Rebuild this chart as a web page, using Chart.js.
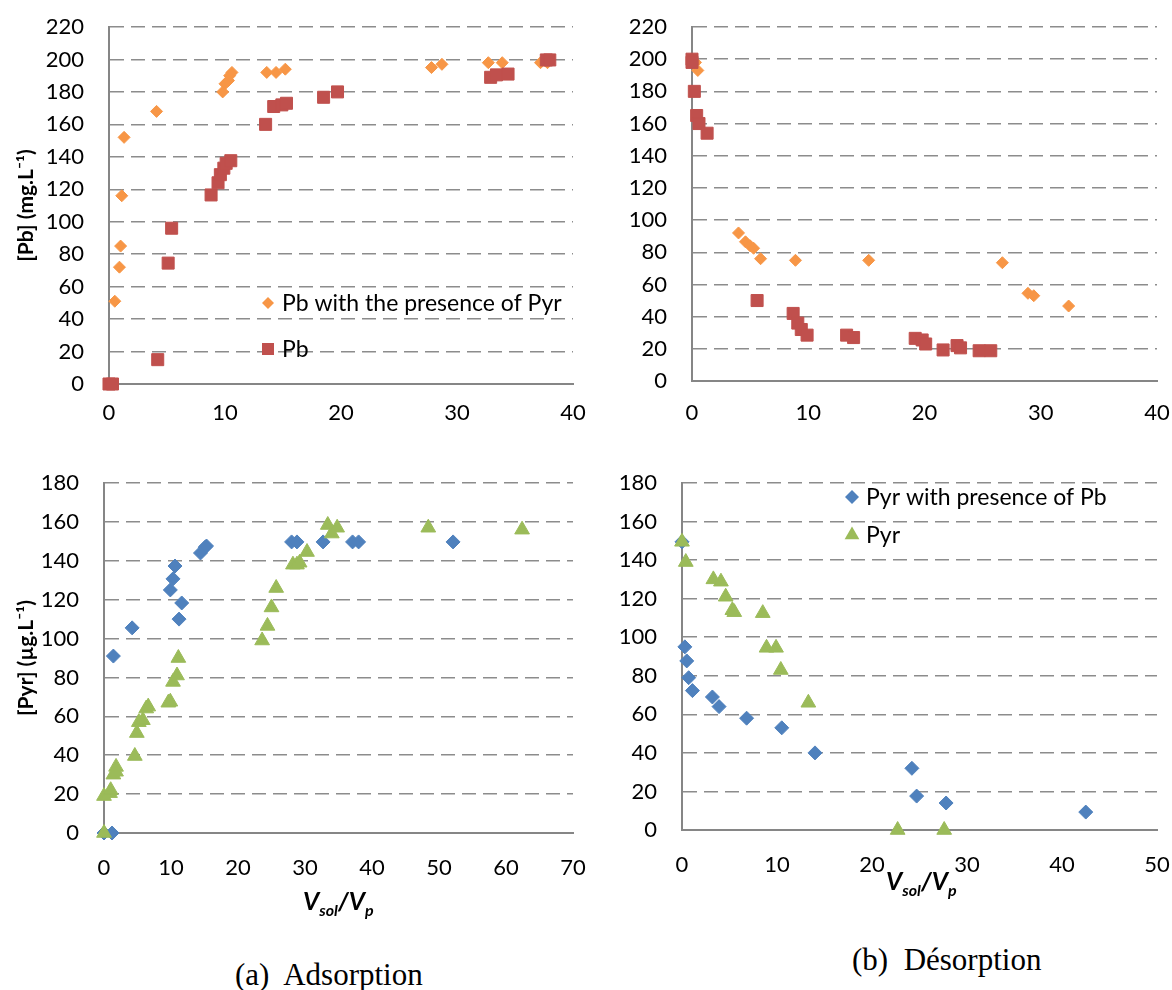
<!DOCTYPE html>
<html>
<head>
<meta charset="utf-8">
<script src="https://cdn.jsdelivr.net/npm/chart.js@4.4.1/dist/chart.umd.min.js"></script>
<style>
  body { margin: 0; background: #fff; }
  #page { position: relative; width: 1172px; height: 990px; overflow: hidden; font-family: Lato, sans-serif; }
  .box { position: absolute; }
  .xtitle { position: absolute; font-family: Lato, sans-serif; font-weight: bold; font-style: italic; font-size: 25px; line-height: 1; white-space: nowrap; }
  .xtitle sub { font-size: 16px; vertical-align: -6px; }
  .cap { position: absolute; font-family: "Liberation Serif", serif; font-size: 31px; white-space: nowrap; line-height: 1; }
</style>
</head>
<body>
<div id="page">
  <div class="box" style="left:0;top:0;width:600px;height:430px"><canvas id="c1"></canvas></div>
  <div class="box" style="left:590px;top:0;width:582px;height:430px"><canvas id="c2"></canvas></div>
  <div class="box" style="left:0;top:450px;width:600px;height:460px"><canvas id="c3"></canvas></div>
  <div class="box" style="left:590px;top:450px;width:582px;height:460px"><canvas id="c4"></canvas></div>
  <div class="xtitle" style="left:303px;top:888px">V<sub>sol</sub>/V<sub>p</sub></div>
  <div class="xtitle" style="left:886px;top:868px">V<sub>sol</sub>/V<sub>p</sub></div>
  <div class="cap" style="left:235px;top:959px">(a)&nbsp; Adsorption</div>
  <div class="cap" style="left:852px;top:944px">(b)&nbsp; Désorption</div>
</div>
<script>
// --- (a) adsorption, Pb ---
const adsPbPyrX = [0.5, 0.9, 1.0, 1.1, 1.3, 4.1, 9.8, 10.0, 10.3, 10.4, 10.6, 13.6, 14.4, 15.2, 27.8, 28.7, 32.7, 33.9, 37.2, 37.8];
const adsPbPyrY = [51, 72, 85, 116, 152, 168, 180, 185, 187, 190, 192, 192, 192, 194, 195, 197, 198, 198, 198, 198];
const adsPbX = [0, 0.3, 4.2, 5.1, 5.4, 8.8, 9.4, 9.6, 9.9, 10.1, 10.5, 13.5, 14.2, 14.9, 15.3, 18.5, 19.7, 32.9, 33.4, 34.4, 37.7, 38.0];
const adsPbY = [0, 0, 15, 74.5, 96, 116.5, 124, 129, 133, 136, 137.6, 160, 171, 172, 173, 176.7, 180, 189, 190.5, 191, 199.7, 199.7];

// --- (b) desorption, Pb ---
const desPbX = [0, 0, 0.2, 0.4, 0.6, 1.3, 5.6, 8.7, 9.1, 9.4, 9.9, 13.3, 13.9, 19.2, 19.8, 20.1, 21.6, 22.8, 23.1, 24.7, 25.7];
const desPbY = [200, 198, 180, 165, 160, 154, 50, 42, 36, 32, 28.5, 28.5, 27, 26.5, 25.5, 23, 19.3, 22, 20.6, 18.8, 18.8];
const desPbPyrX = [0.3, 0.5, 4.0, 4.6, 5.0, 5.3, 5.9, 8.9, 15.2, 26.7, 28.9, 29.4, 32.4];
const desPbPyrY = [198, 193, 92, 86.5, 84, 82.5, 76, 75, 75, 73.5, 54.5, 53, 46.6];

// --- (a) adsorption, Pyr ---
const adsPyrPbX = [0, 1.2, 1.4, 4.2, 9.9, 10.3, 10.6, 11.2, 11.6, 14.4, 15.1, 15.3, 28.0, 28.8, 32.7, 37.1, 38.0, 52.1];
const adsPyrPbY = [0, 0, 91, 105.5, 125, 130.7, 137.3, 110, 118.3, 144, 147, 147.6, 149.7, 149.7, 149.7, 149.7, 149.7, 149.7];
const adsPyrX = [0, 0, 0.9, 1.0, 1.4, 1.8, 1.8, 4.6, 4.9, 5.2, 5.8, 6.3, 6.6, 9.6, 9.9, 10.3, 10.9, 11.1, 23.6, 24.4, 25.0, 25.7, 28.2, 28.8, 29.2, 30.3, 33.4, 34.0, 34.8, 48.4, 62.4];
const adsPyrY = [0, 19, 20.5, 22, 30, 31.5, 34, 39.6, 51.4, 57, 58, 64, 65, 67, 67.5, 77.7, 81, 90, 99, 106.5, 116, 126, 138, 138, 139, 144.5, 158.4, 154, 157, 157, 156];

// --- (b) desorption, Pyr ---
const desPyrPbX = [0, 0.3, 0.5, 0.7, 1.1, 3.2, 3.9, 6.8, 10.5, 14.0, 24.2, 24.7, 27.8, 42.5];
const desPyrPbY = [149.5, 95, 87.7, 79, 72.3, 69, 64, 58, 53, 40, 32, 17.6, 14, 9.3];
const desPyrX = [0, 0.4, 3.3, 4.1, 4.6, 5.3, 5.5, 8.5, 8.9, 9.9, 10.4, 13.3, 22.7, 27.6];
const desPyrY = [149.5, 139, 130, 128.8, 121, 114, 113, 112.5, 94.5, 94.5, 83, 66, 0, 0];

// axis ranges [min, max, step]
const pbYRange = [0, 220, 20];
const pyrYRange = [0, 180, 20];
const pbXRange = [0, 40, 10];
const adsPyrXRange = [0, 70, 10];
const desPyrXRange = [0, 50, 10];

const ORANGE = "#F79646";
const RED = "#C0504D";
const BLUE = "#4F81BD";
const GREEN = "#9BBB59";
const GRID = "#8c8c8c";
const AXIS = "#868686";

function pts(xs, ys) {
    return xs.map((x, i) => ({ x: x, y: ys[i] }));
}

function series(label, xs, ys, color, style, radius, order) {
    return {
        label: label,
        data: pts(xs, ys),
        backgroundColor: color,
        borderColor: color,
        borderWidth: 1,
        pointStyle: style,
        pointRadius: radius,
        pointHoverRadius: radius,
        clip: false,
        order: order
    };
}

// same shapes as the points, for the legend
function marker(ctx, style, r, x, y) {
    ctx.beginPath();
    if (style === "rectRot") {
        ctx.moveTo(x - r, y); ctx.lineTo(x, y - r); ctx.lineTo(x + r, y); ctx.lineTo(x, y + r);
    } else if (style === "rect") {
        const s = r * Math.SQRT1_2;
        ctx.rect(x - s, y - s, 2 * s, 2 * s);
    } else {
        const w = r * Math.sin(Math.PI / 3);
        ctx.moveTo(x, y - r); ctx.lineTo(x + w, y + r / 2); ctx.lineTo(x - w, y + r / 2);
    }
    ctx.closePath();
    ctx.fill();
}

const boxLegend = {
    id: "boxLegend",
    afterDraw(chart, args, opts) {
        if (!opts.items) return;
        const ctx = chart.ctx;
        const a = chart.chartArea;
        ctx.save();
        ctx.font = "23px Lato";
        ctx.textBaseline = "middle";
        opts.items.forEach((idx, i) => {
            const ds = chart.data.datasets[idx];
            const x = a.left + opts.x;
            const y = a.top + opts.y + i * opts.gap;
            ctx.fillStyle = ds.backgroundColor;
            marker(ctx, ds.pointStyle, ds.pointRadius, x, y);
            ctx.fillStyle = "#000";
            ctx.fillText(ds.label, x + 14, y + 1);
        });
        ctx.restore();
    }
};

function makeChart(id, datasets, cfg) {
    return new Chart(document.getElementById(id), {
        type: "scatter",
        data: { datasets: datasets },
        plugins: [boxLegend],
        options: {
            responsive: true,
            maintainAspectRatio: false,
            animation: false,
            layout: { padding: { top: cfg.padTop, right: cfg.padRight, left: 0, bottom: 0 } },
            plugins: {
                legend: { display: false },
                tooltip: { enabled: false },
                boxLegend: cfg.legend || {}
            },
            scales: {
                x: {
                    type: "linear",
                    min: cfg.xRange[0],
                    max: cfg.xRange[1],
                    ticks: {
                        stepSize: cfg.xRange[2],
                        padding: 0,
                        color: "#000",
                        // tall line box pushes the labels down without eating the right margin
                        font: { family: "Lato", size: 22, lineHeight: (cfg.xLabelOffset * 2) + "px" },
                        maxRotation: 0
                    },
                    grid: { display: false, drawTicks: false },
                    border: { display: true, color: AXIS, width: 2 },
                    afterFit(scale) {
                        scale.height = cfg.xHeight;
                        scale.paddingLeft = 0;
                        scale.paddingRight = 0;
                    }
                },
                y: {
                    type: "linear",
                    min: cfg.yRange[0],
                    max: cfg.yRange[1],
                    ticks: {
                        stepSize: cfg.yRange[2],
                        padding: 25,
                        color: "#000",
                        font: { family: "Lato", size: 22 }
                    },
                    grid: {
                        drawTicks: false,
                        color: ctx => ctx.tick && ctx.tick.value === 0 ? "rgba(0,0,0,0)" : GRID,
                        lineWidth: 1.5
                    },
                    border: { display: true, color: AXIS, width: 2, dash: [14, 7] },
                    title: {
                        display: !!cfg.yTitle,
                        text: cfg.yTitle || "",
                        color: "#000",
                        font: { family: "Lato", size: 21, weight: "bold" },
                        padding: { top: 14, bottom: 0 }
                    },
                    afterFit(scale) {
                        scale.width = cfg.yWidth;
                        scale.paddingTop = 0;
                        scale.paddingBottom = 0;
                    }
                }
            }
        }
    });
}

makeChart("c1", [
    series("Pb with the presence of Pyr", adsPbPyrX, adsPbPyrY, ORANGE, "rectRot", 6, 1),
    series("Pb", adsPbX, adsPbY, RED, "rect", 8.5, 0)
], {
    xRange: pbXRange, yRange: pbYRange, yTitle: "[Pb] (mg.L\u207B\u00B9)",
    padTop: 27, padRight: 27, yWidth: 109, xHeight: 46, xLabelOffset: 29,
    legend: { items: [0, 1], x: 159, y: 276, gap: 46 }
});

makeChart("c2", [
    series("Pb with the presence of Pyr", desPbPyrX, desPbPyrY, ORANGE, "rectRot", 6, 1),
    series("Pb", desPbX, desPbY, RED, "rect", 8.5, 0)
], {
    xRange: pbXRange, yRange: pbYRange,
    padTop: 27, padRight: 15, yWidth: 102, xHeight: 49, xLabelOffset: 32
});

makeChart("c3", [
    series("Pyr with presence of Pb", adsPyrPbX, adsPyrPbY, BLUE, "rectRot", 7, 1),
    series("Pyr", adsPyrX, adsPyrY, GREEN, "triangle", 8.5, 0)
], {
    xRange: adsPyrXRange, yRange: pyrYRange, yTitle: "[Pyr] (\u00B5g.L\u207B\u00B9)",
    padTop: 33, padRight: 27, yWidth: 104, xHeight: 77, xLabelOffset: 35
});

makeChart("c4", [
    series("Pyr with presence of Pb", desPyrPbX, desPyrPbY, BLUE, "rectRot", 7, 1),
    series("Pyr", desPyrX, desPyrY, GREEN, "triangle", 8.5, 0)
], {
    xRange: desPyrXRange, yRange: pyrYRange,
    padTop: 33, padRight: 15, yWidth: 92, xHeight: 80, xLabelOffset: 35,
    legend: { items: [0, 1], x: 170, y: 14, gap: 38 }
});
</script>
</body>
</html>
